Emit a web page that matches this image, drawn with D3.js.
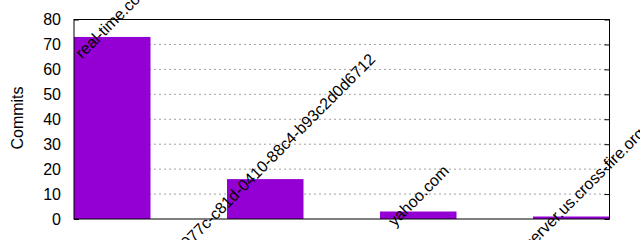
<!DOCTYPE html>
<html>
<head>
<meta charset="utf-8">
<script src="https://cdn.jsdelivr.net/npm/d3@7"></script>
<style>
  body { margin: 0; background: #fff; }
  svg { display: block; }
  text { font-family: "Liberation Sans", Arial, sans-serif; fill: #000; }
</style>
</head>
<body>
<svg id="chart" width="640" height="240"></svg>
<script>
// Commits per domain
const domains = ['real-time.com', '282e977c-c81d-0410-88c4-b93c2d0d6712', 'yahoo.com', 'metaserver.us.cross-fire.org']
const commits = [73, 16, 3, 1]
const yTicks = [0, 10, 20, 30, 40, 50, 60, 70, 80]

document.addEventListener('DOMContentLoaded', start)

function start () {
  drawChart()
}

function drawChart () {
  const svg = d3.select('#chart')
  const plot = { left: 74, right: 609.5, top: 19.5, bottom: 219 }
  const boxwidth = 0.5

  // gnuplot style autoscale: half a box past the first and last bar
  const x = d3.scaleLinear()
    .domain([-boxwidth / 2, domains.length - 1 + boxwidth / 2])
    .range([plot.left, plot.right])
  const y = d3.scaleLinear()
    .domain([0, 80])
    .range([plot.bottom, plot.top])

  // dotted y grid
  svg.append('g')
    .selectAll('line')
    .data(yTicks.slice(1, -1))
    .enter().append('line')
    .attr('x1', plot.left)
    .attr('x2', plot.right)
    .attr('y1', d => y(d))
    .attr('y2', d => y(d))
    .attr('stroke', '#a0a0a0')
    .attr('stroke-width', 1)
    .attr('stroke-dasharray', '2,3')

  // tics on both sides
  svg.append('g')
    .attr('transform', `translate(${plot.left},0)`)
    .call(d3.axisRight(y).tickValues(yTicks).tickSize(5).tickFormat(''))
  svg.append('g')
    .attr('transform', `translate(${plot.right},0)`)
    .call(d3.axisLeft(y).tickValues(yTicks).tickSize(5).tickFormat(''))
  svg.selectAll('.domain').remove()
  svg.selectAll('.tick line').attr('stroke', '#000')

  // tick labels
  svg.append('g')
    .selectAll('text')
    .data(yTicks)
    .enter().append('text')
    .attr('x', 61)
    .attr('y', d => y(d))
    .attr('dy', '0.36em')
    .attr('text-anchor', 'end')
    .style('font-size', '16px')
    .text(d => d)

  // bars
  svg.append('g')
    .selectAll('rect')
    .data(commits)
    .enter().append('rect')
    .attr('x', (d, i) => x(i - boxwidth / 2))
    .attr('width', x(boxwidth) - x(0))
    .attr('y', d => y(d))
    .attr('height', d => y(0) - y(d))
    .attr('fill', '#9400d3')

  // border on top
  svg.append('rect')
    .attr('x', plot.left)
    .attr('y', plot.top)
    .attr('width', plot.right - plot.left)
    .attr('height', plot.bottom - plot.top)
    .attr('fill', 'none')
    .attr('stroke', '#000')
    .attr('stroke-width', 1)

  // rotated labels centred one line above each bar
  svg.append('g')
    .selectAll('text')
    .data(domains)
    .enter().append('text')
    .attr('transform', (d, i) => `translate(${x(i)},${y(commits[i]) - 16}) rotate(-45)`)
    .attr('text-anchor', 'middle')
    .attr('dy', '0.36em')
    .style('font-size', '16px')
    .text(d => d)

  svg.append('text')
    .attr('transform', `translate(23,118) rotate(-90)`)
    .attr('text-anchor', 'middle')
    .style('font-size', '16px')
    .text('Commits')
}
</script>
</body>
</html>
